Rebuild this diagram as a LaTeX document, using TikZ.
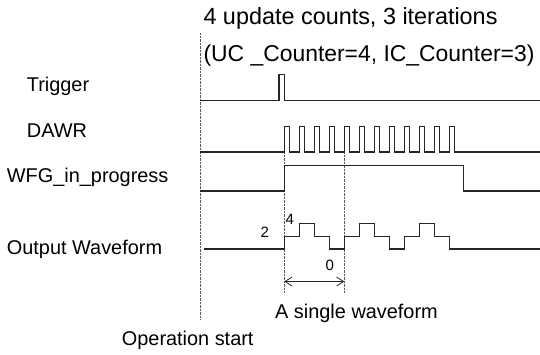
\documentclass[tikz,border=0pt]{standalone}
\usepackage{fontspec}
\setmainfont{Liberation Sans}
\usetikzlibrary{arrows.meta}
\begin{document}
\begin{tikzpicture}[x=1pt,y=-1pt,
  sig/.style={line width=1.1pt, black!85, line join=miter},
  guide/.style={line width=0.6pt, black!65, dash pattern=on 0.7pt off 0.7pt},
  lbl/.style={anchor=base west, inner sep=0pt, font=\fontsize{19.9}{22}\selectfont},
  ttl/.style={anchor=base west, inner sep=0pt, font=\fontsize{23.4}{26}\selectfont},
  ttlb/.style={anchor=base west, inner sep=0pt, font=\fontsize{22.9}{26}\selectfont},
  lvl/.style={anchor=base west, inner sep=0pt, font=\fontsize{15}{17}\selectfont},
  span/.style={line width=0.8pt, black!85, {Straight Barb[length=7pt,width=9pt]}-{Straight Barb[length=7pt,width=9pt]}}]
\useasboundingbox (0,0) rectangle (540,354);

% titles
\node[ttl] (t1) at (203.3,24) {4 update counts, 3 iterations};
\node[ttlb] (t2) at (203.3,61) {(UC \_Counter=4, IC\_Counter=3)};

% signal names
\node[lbl] (ltrig) at (26.7,91) {Trigger};
\node[lbl] (ldawr) at (26.7,137.3) {DAWR};
\node[lbl] (lwfg) at (6.7,182.5) {WFG\_in\_progress};
\node[lbl] (lout) at (6.7,254) {Output Waveform};

% guide lines
\draw[guide] (200,33) -- (200,319);
\draw[guide] (284.3,152) -- (284.3,293);
\draw[guide] (344.3,152) -- (344.3,293);

% Trigger
\draw[sig] (200,100.7) -- (279,100.7) -- (279,74.7) -- (284.3,74.7) -- (284.3,100.7) -- (540,100.7);

% DAWR
\draw[sig] (200,152) foreach \i in {0,...,11}{
  -- ({284.3+15*\i},152) -- ({284.3+15*\i},126.7) -- ({289.3+15*\i},126.7) -- ({289.3+15*\i},152)}
  -- (540,152);

% WFG_in_progress
\draw[sig] (200,191) -- (284.3,191) -- (284.3,165.7) -- (463.3,165.7) -- (463.3,191) -- (540,191);

% Output waveform
\draw[sig] (204,249) -- (284.3,249) foreach \k in {0,1,2}{
  -- ++(0,-12.3) -- ++(15,0) -- ++(0,-13.4) -- ++(15,0) -- ++(0,13.4) -- ++(15,0) -- ++(0,12.3) -- ++(15,0)}
  -- (540,249);

% level labels
\node[lvl] (l2) at (260.5,237.3) {2};
\node[lvl] (l4) at (285.5,224) {4};
\node[lvl] (l0) at (325.5,270) {0};

% single waveform span
\coordinate (ws) at (284.3,281.5);
\coordinate (we) at (344.3,281.5);
\draw[span] (ws) -- (we);
\node[lbl] (lsingle) at (275,318) {A single waveform};

% operation start
\node[lbl] (lstart) at (121.7,345.5) {Operation start};
\end{tikzpicture}
\end{document}
